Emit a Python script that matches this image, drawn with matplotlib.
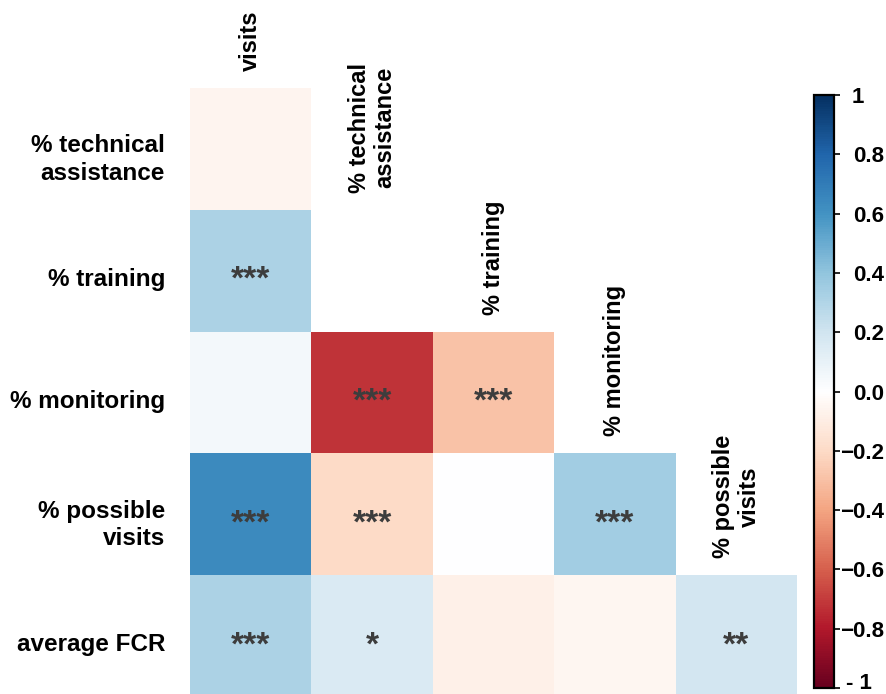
import matplotlib.pyplot as plt
import numpy as np
from matplotlib.colors import LinearSegmentedColormap
from matplotlib.transforms import ScaledTranslation

# Lower-triangle correlation matrix (rows x columns)
row_labels = ["% technical\nassistance", "% training", "% monitoring",
              "% possible\nvisits", "average FCR"]
col_labels = ["visits", "% technical\nassistance", "% training",
              "% monitoring", "% possible\nvisits"]
corr = [
    [-0.06, None, None, None, None],
    [0.32, None, None, None, None],
    [0.05, -0.72, -0.29, None, None],
    [0.64, -0.20, 0.00, 0.35, None],
    [0.32, 0.16, -0.08, -0.05, 0.19],
]
stars = [
    ["", "", "", "", ""],
    ["***", "", "", "", ""],
    ["", "***", "***", "", ""],
    ["***", "***", "", "***", ""],
    ["***", "*", "", "", "**"],
]
cbar_ticks = [1, 0.8, 0.6, 0.4, 0.2, 0.0, -0.2, -0.4, -0.6, -0.8, -1]
cbar_ticklabels = ["1", "0.8", "0.6", "0.4", "0.2", "0.0",
                   "\u22120.2", "\u22120.4", "\u22120.6", "\u22120.8", "- 1"]

# corrplot-style RdBu with a white centre
cmap = LinearSegmentedColormap.from_list("rdbu_white", [
    "#67001F", "#B2182B", "#D6604D", "#F4A582", "#FDDBC7", "#FFFFFF",
    "#D1E5F0", "#92C5DE", "#4393C3", "#2166AC", "#053061"])

plt.rcParams["font.family"] = ["Liberation Sans", "DejaVu Sans"]
plt.rcParams["font.weight"] = "bold"

data = np.array([[np.nan if v is None else v for v in r] for r in corr])
masked = np.ma.masked_invalid(data)
n = len(row_labels)

fig = plt.figure(figsize=(8.86, 6.94), dpi=100)
ax = fig.add_axes([0.2144, -0.0043, 0.6851, 0.8775])
mesh = ax.pcolormesh(np.arange(n + 1), np.arange(n + 1), masked,
                     cmap=cmap, vmin=-1, vmax=1)
ax.set_xlim(0, n)
ax.set_ylim(n, 0)
for s in ax.spines.values():
    s.set_visible(False)
ax.set_xticks([])
ax.set_yticks(np.arange(n) + 0.55)
ax.set_yticklabels(row_labels, fontsize=17.5, fontweight="bold",
                   linespacing=1.25)
ax.tick_params(axis="y", length=0, pad=18)

# significance stars
for i in range(n):
    for j in range(n):
        if stars[i][j]:
            ax.text(j + 0.5, i + 0.58, stars[i][j], ha="center", va="center",
                    fontsize=24, color="#3d3d3d", fontweight="bold")

# column labels sit just above the first cell of each column
for j, lab in enumerate(col_labels):
    ax.text(j + 0.5, j - 0.14, lab, rotation=90, ha="center", va="bottom",
            fontsize=17, fontweight="bold", linespacing=1.15)

cax = fig.add_axes([0.9188, 0.0086, 0.0226, 0.8545])
cb = fig.colorbar(mesh, cax=cax, ticks=cbar_ticks)
cb.ax.tick_params(length=4, width=1.2, pad=32)
cb.ax.set_yticklabels(cbar_ticklabels, fontsize=16, fontweight="bold",
                      ha="right")
cb.outline.set_linewidth(1.6)

# the end labels sit a little further left than the decimals
labels = cb.ax.get_yticklabels()
labels[0].set_transform(labels[0].get_transform()
                        + ScaledTranslation(-0.2, 0, fig.dpi_scale_trans))
labels[-1].set_transform(labels[-1].get_transform()
                         + ScaledTranslation(-0.12, 0.07, fig.dpi_scale_trans))

fig.savefig("out.png", dpi=100)
